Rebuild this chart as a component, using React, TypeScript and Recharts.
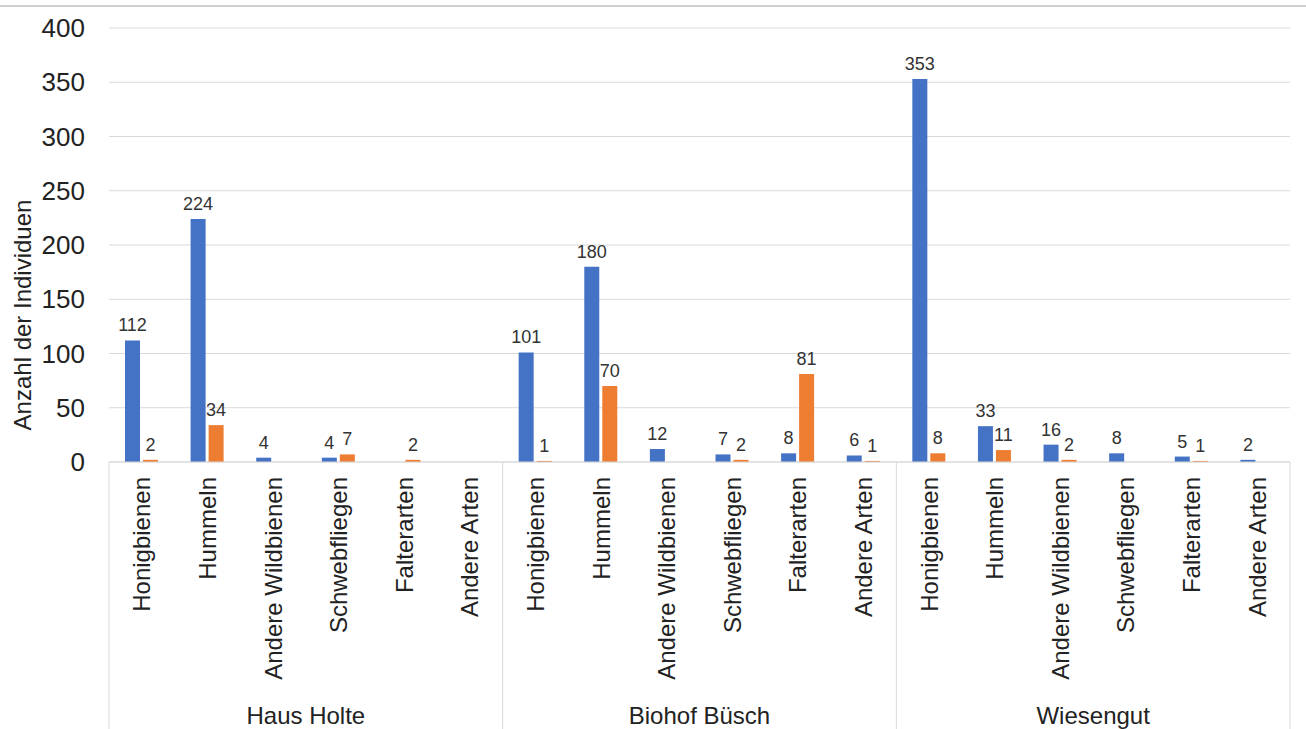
import { Bar, BarChart, CartesianGrid, LabelList, XAxis, YAxis } from 'recharts';

const groups = ['Haus Holte', 'Biohof Büsch', 'Wiesengut'];
const species = ['Honigbienen', 'Hummeln', 'Andere Wildbienen', 'Schwebfliegen', 'Falterarten', 'Andere Arten'];

// values per group, in species order (null = no bar)
const blueValues: (number | null)[][] = [
  [112, 224, 4, 4, null, null],
  [101, 180, 12, 7, 8, 6],
  [353, 33, 16, 8, 5, 2],
];
const orangeValues: (number | null)[][] = [
  [2, 34, null, 7, 2, null],
  [1, 70, null, 2, 81, 1],
  [8, 11, 2, null, 1, null],
];
const yTicks = [0, 50, 100, 150, 200, 250, 300, 350, 400];

const data = groups.flatMap((g, gi) =>
  species.map((s, si) => ({
    name: s,
    group: g,
    blue: blueValues[gi][si],
    orange: orangeValues[gi][si],
  }))
);

const W = 1306;
const H = 729;
const PLOT_LEFT = 109;
const PLOT_RIGHT = 1290;
const PLOT_TOP = 28;
const PLOT_BOTTOM = 462;
const BAND = (PLOT_RIGHT - PLOT_LEFT) / data.length;
const FONT = '"Liberation Sans", Arial, sans-serif';
const TEXT = '#222';

function CategoryTick(props: any) {
  const { x, payload, index } = props;
  const ty = PLOT_BOTTOM + 15;
  const perGroup = species.length;
  const gi = Math.floor(index / perGroup);
  return (
    <g>
      <text
        x={x}
        y={ty}
        transform={`rotate(-90, ${x}, ${ty})`}
        textAnchor="end"
        dominantBaseline="central"
        fontSize={24}
        fontFamily={FONT}
        fill={TEXT}
      >
        {payload.value}
      </text>
      {index % perGroup === 0 && (
        <line x1={x - BAND / 2} x2={x - BAND / 2} y1={PLOT_BOTTOM} y2={H} stroke="#d9d9d9" />
      )}
      {index === data.length - 1 && (
        <line x1={x + BAND / 2} x2={x + BAND / 2} y1={PLOT_BOTTOM} y2={H} stroke="#d9d9d9" />
      )}
      {index % perGroup === 2 && (
        <text x={x + BAND / 2} y={724} textAnchor="middle" fontSize={24} fontFamily={FONT} fill={TEXT}>
          {groups[gi]}
        </text>
      )}
    </g>
  );
}

export default function App() {
  return (
    <div style={{ position: 'absolute', left: 0, top: 0, width: W, height: H, background: '#fff' }}>
      <div style={{ position: 'absolute', left: 0, top: 5, width: W, height: 2, background: '#cfcfcf' }} />
      <BarChart
        width={W}
        height={H}
        data={data}
        margin={{ top: PLOT_TOP, right: W - PLOT_RIGHT, left: 9, bottom: 0 }}
        barSize={15}
        barGap={3}
      >
        <CartesianGrid vertical={false} stroke="#d9d9d9" />
        <XAxis
          dataKey="name"
          interval={0}
          height={H - PLOT_BOTTOM}
          tickLine={false}
          axisLine={{ stroke: '#d9d9d9' }}
          tick={<CategoryTick />}
        />
        <YAxis
          width={PLOT_LEFT - 9}
          domain={[0, 400]}
          ticks={yTicks}
          interval={0}
          tickLine={false}
          axisLine={false}
          tickMargin={18}
          tick={{ fontSize: 26, fontFamily: FONT, fill: TEXT }}
          label={{
            content: () => (
              <text
                x={22}
                y={315}
                transform="rotate(-90, 22, 315)"
                textAnchor="middle"
                dominantBaseline="central"
                fontSize={24}
                fontFamily={FONT}
                fill={TEXT}
              >
                Anzahl der Individuen
              </text>
            ),
          }}
        />
        <Bar dataKey="blue" fill="#4472C4" isAnimationActive={false}>
          <LabelList dataKey="blue" position="top" offset={9} fontSize={18} fontFamily={FONT} fill="#333" />
        </Bar>
        <Bar dataKey="orange" fill="#ED7D31" isAnimationActive={false}>
          <LabelList dataKey="orange" position="top" offset={9} fontSize={18} fontFamily={FONT} fill="#333" />
        </Bar>
      </BarChart>
    </div>
  );
}
